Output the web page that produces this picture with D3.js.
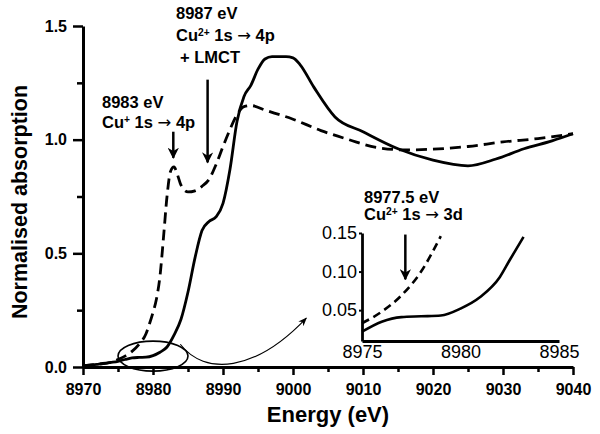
<!DOCTYPE html>
<html>
<head>
<meta charset="utf-8">
<script src="https://cdn.jsdelivr.net/npm/d3@7"></script>
<style>
  body { margin: 0; background: #fff; }
  svg { display: block; font-family: "Liberation Sans", Arial, sans-serif; }
  .axis text { font-weight: bold; font-size: 16px; fill: #000; }
  .inset-axis text { font-weight: normal; font-size: 18px; fill: #000; }
  .axis path, .axis line, .inset-axis path, .inset-axis line { stroke: #000; }
</style>
</head>
<body>
<div id="chart"></div>
<script>
const SVG_WIDTH = 600;
const SVG_HEIGHT = 434;
const X_AXIS_LABEL = "Energy (eV)";
const Y_AXIS_LABEL = "Normalised absorption";

// main spectrum, Cu2+ (solid) and Cu+ (dashed)
const solidEnergy = [8970, 8972, 8974, 8975, 8976, 8977, 8978, 8979, 8980, 8981, 8982, 8983, 8984, 8985, 8986, 8987, 8988, 8989, 8990, 8991, 8992, 8993, 8994, 8995, 8996, 8997, 8999, 9000, 9001, 9003, 9006, 9010, 9015, 9020, 9025, 9029, 9033, 9037, 9040];
const solidAbs    = [0.005, 0.012, 0.02, 0.025, 0.033, 0.04, 0.042, 0.043, 0.05, 0.065, 0.088, 0.14, 0.21, 0.33, 0.48, 0.6, 0.64, 0.66, 0.72, 0.87, 1.08, 1.19, 1.24, 1.31, 1.355, 1.365, 1.365, 1.36, 1.33, 1.23, 1.1, 1.035, 0.96, 0.91, 0.885, 0.915, 0.96, 0.995, 1.026];

const dashedEnergy = [8970, 8972, 8974, 8975, 8976, 8977, 8978, 8979, 8979.5, 8980, 8980.5, 8981, 8981.5, 8982, 8982.5, 8983, 8983.5, 8984, 8985, 8986, 8987, 8988, 8989, 8990, 8991, 8992, 8993, 8994, 8996, 9000, 9004, 9008, 9012, 9016, 9020, 9025, 9030, 9035, 9040];
const dashedAbs    = [0.005, 0.012, 0.02, 0.033, 0.048, 0.069, 0.1, 0.146, 0.19, 0.24, 0.3, 0.4, 0.57, 0.75, 0.86, 0.88, 0.845, 0.8, 0.77, 0.775, 0.795, 0.825, 0.89, 0.97, 1.045, 1.11, 1.145, 1.15, 1.13, 1.09, 1.04, 1.0, 0.965, 0.955, 0.958, 0.97, 0.99, 1.005, 1.026];

// pre-edge inset
const insetSolidEnergy = [8975, 8976, 8977, 8978, 8979, 8980, 8981, 8982, 8982.5, 8983.2];
const insetSolidAbs    = [0.022, 0.035, 0.041, 0.042, 0.043, 0.052, 0.067, 0.093, 0.115, 0.145];
const insetDashedEnergy = [8975, 8976, 8977, 8978, 8979];
const insetDashedAbs    = [0.033, 0.048, 0.069, 0.1, 0.146];

const xMajorTicks = [8970, 8980, 8990, 9000, 9010, 9020, 9030, 9040];
const xMinorTicks = [8975, 8985, 8995, 9005, 9015, 9025, 9035];
const yMajorTicks = [0, 0.5, 1.0, 1.5];
const yMinorTicks = [0.25, 0.75, 1.25];
const insetXTicks = [8975, 8980, 8985];
const insetYTicks = [0.05, 0.10, 0.15];

// annotation arrows: energy, start value, end value
const arrowEnergy = [8982.9, 8987.8];
const arrowFrom   = [1.035, 1.264];
const arrowTo     = [0.92, 0.9];

const svg = d3.select("#chart")
    .append("svg")
    .attr("width", SVG_WIDTH)
    .attr("height", SVG_HEIGHT);

svg.append("defs").append("marker")
    .attr("id", "head")
    .attr("viewBox", "0 0 10 10")
    .attr("refX", 9).attr("refY", 5)
    .attr("markerWidth", 4.5).attr("markerHeight", 4.5)
    .attr("markerUnits", "strokeWidth")
    .attr("orient", "auto")
    .append("path")
    .attr("d", "M0,0 L10,5 L0,10 L3,5 z")
    .attr("fill", "#000");

svg.select("defs").append("marker")
    .attr("id", "thinhead")
    .attr("viewBox", "0 0 10 10")
    .attr("refX", 9).attr("refY", 5)
    .attr("markerWidth", 8).attr("markerHeight", 8)
    .attr("markerUnits", "strokeWidth")
    .attr("orient", "auto")
    .append("path")
    .attr("d", "M0,1 L10,5 L0,9 L3,5 z")
    .attr("fill", "#000");

const xScale = d3.scaleLinear().domain([8970, 9040]).range([83, 573]);
const yScale = d3.scaleLinear().domain([0, 1.5]).range([367, 26]);

// axes
const xAxisG = svg.append("g")
    .attr("class", "axis")
    .attr("transform", `translate(0,${yScale(0)})`);
xAxisG.append("g")
    .call(d3.axisBottom(xScale).tickValues(xMinorTicks).tickSize(5).tickSizeOuter(0).tickFormat(""))
    .call(g => g.select(".domain").remove());
xAxisG.append("g")
    .call(d3.axisBottom(xScale).tickValues(xMajorTicks).tickSize(8).tickSizeOuter(0).tickPadding(9).tickFormat(d3.format("d")));

const yAxisG = svg.append("g")
    .attr("class", "axis")
    .attr("transform", `translate(${xScale(8970)},0)`);
yAxisG.append("g")
    .call(d3.axisLeft(yScale).tickValues(yMinorTicks).tickSize(6).tickSizeOuter(0).tickFormat(""))
    .call(g => g.select(".domain").remove());
yAxisG.append("g")
    .call(d3.axisLeft(yScale).tickValues(yMajorTicks).tickSize(10).tickSizeOuter(0).tickPadding(6).tickFormat(d3.format(".1f")));

svg.selectAll(".axis .domain").attr("stroke-width", 3);
svg.selectAll(".axis line").attr("stroke-width", 2.5);

svg.append("text")
    .attr("x", (xScale.range()[0] + xScale.range()[1]) / 2)
    .attr("y", 422)
    .attr("text-anchor", "middle")
    .style("font-size", "22px")
    .style("font-weight", "bold")
    .text(X_AXIS_LABEL);

svg.append("text")
    .attr("transform", "rotate(-90)")
    .attr("x", -202)
    .attr("y", 27)
    .attr("text-anchor", "middle")
    .style("font-size", "21.5px")
    .style("font-weight", "bold")
    .text(Y_AXIS_LABEL);

// spectra
const line = d3.line()
    .x(d => xScale(d[0]))
    .y(d => yScale(d[1]))
    .curve(d3.curveMonotoneX);

svg.append("path")
    .datum(d3.zip(dashedEnergy, dashedAbs))
    .attr("d", line)
    .attr("fill", "none")
    .attr("stroke", "#000")
    .attr("stroke-width", 2.8)
    .attr("stroke-dasharray", "11,6");

svg.append("path")
    .datum(d3.zip(solidEnergy, solidAbs))
    .attr("d", line)
    .attr("fill", "none")
    .attr("stroke", "#000")
    .attr("stroke-width", 2.8);

// ellipse round the pre-edge and connector to the inset
svg.append("ellipse")
    .attr("cx", xScale(8980))
    .attr("cy", yScale(0.048))
    .attr("rx", xScale(8975) - xScale(8970))
    .attr("ry", yScale(0) - yScale(0.066))
    .attr("fill", "none")
    .attr("stroke", "#000")
    .attr("stroke-width", 1.6);

const connector = d3.path();
connector.moveTo(xScale(8983.9), yScale(0.1));
connector.bezierCurveTo(xScale(8987.4), yScale(-0.04), xScale(8994.6), yScale(-0.022), xScale(9001.9), yScale(0.215));
svg.append("path")
    .attr("d", connector.toString())
    .attr("fill", "none")
    .attr("stroke", "#000")
    .attr("stroke-width", 1.1)
    .attr("marker-end", "url(#thinhead)");

// annotation arrows
svg.selectAll(".ann-arrow")
    .data(arrowEnergy)
    .join("line")
    .attr("class", "ann-arrow")
    .attr("x1", d => xScale(d))
    .attr("x2", d => xScale(d))
    .attr("y1", (d, i) => yScale(arrowFrom[i]))
    .attr("y2", (d, i) => yScale(arrowTo[i]))
    .attr("stroke", "#000")
    .attr("stroke-width", 2.5)
    .attr("marker-end", "url(#head)");

function addLabel(x, y, parts, size) {
    const t = svg.append("text")
        .attr("x", x)
        .attr("y", y)
        .style("font-size", size + "px")
        .style("font-weight", "bold");
    parts.forEach(p => {
        const s = t.append("tspan").text(p.text);
        if (p.sup) s.attr("baseline-shift", "super").style("font-size", (size * 0.62) + "px");
        if (p.arrow) s.style("font-family", "'DejaVu Sans', sans-serif").style("font-weight", "normal");
    });
}

addLabel(176, 19, [{ text: "8987 eV" }], 16.5);
addLabel(176, 41, [{ text: "Cu" }, { text: "2+", sup: true }, { text: " 1s " }, { text: "\u2192", arrow: true }, { text: " 4p" }], 16.5);
addLabel(180, 63, [{ text: "+ LMCT" }], 16.5);
addLabel(102, 107.5, [{ text: "8983 eV" }], 16.5);
addLabel(102, 128, [{ text: "Cu" }, { text: "+", sup: true }, { text: " 1s " }, { text: "\u2192", arrow: true }, { text: " 4p" }], 16.5);
addLabel(364, 203, [{ text: "8977.5 eV" }], 16.5);
addLabel(364, 220, [{ text: "Cu" }, { text: "2+", sup: true }, { text: " 1s " }, { text: "\u2192", arrow: true }, { text: " 3d" }], 16.5);

// inset
const insetX = d3.scaleLinear().domain([8975, 8985]).range([362, 559]);
const insetY = d3.scaleLinear().domain([0.01, 0.15]).range([341, 233]);

svg.append("g")
    .attr("class", "inset-axis")
    .attr("transform", `translate(0,${insetY(0.01)})`)
    .call(d3.axisBottom(insetX).tickValues(insetXTicks).tickSize(0).tickPadding(4).tickFormat(d3.format("d")));

svg.append("g")
    .attr("class", "inset-axis")
    .attr("transform", `translate(${insetX(8975)},0)`)
    .call(d3.axisLeft(insetY).tickValues(insetYTicks).tickSize(3).tickSizeOuter(0).tickPadding(2).tickFormat(d3.format(".2f")));

svg.selectAll(".inset-axis .domain").attr("stroke-width", 2.8);
svg.selectAll(".inset-axis line").attr("stroke-width", 2);

const insetLine = d3.line()
    .x(d => insetX(d[0]))
    .y(d => insetY(d[1]))
    .curve(d3.curveMonotoneX);

svg.append("path")
    .datum(d3.zip(insetDashedEnergy, insetDashedAbs))
    .attr("d", insetLine)
    .attr("fill", "none")
    .attr("stroke", "#000")
    .attr("stroke-width", 2.6)
    .attr("stroke-dasharray", "8,5");

svg.append("path")
    .datum(d3.zip(insetSolidEnergy, insetSolidAbs))
    .attr("d", insetLine)
    .attr("fill", "none")
    .attr("stroke", "#000")
    .attr("stroke-width", 2.6);

svg.append("line")
    .attr("x1", insetX(8977.2))
    .attr("x2", insetX(8977.2))
    .attr("y1", insetY(0.148))
    .attr("y2", insetY(0.09))
    .attr("stroke", "#000")
    .attr("stroke-width", 2.5)
    .attr("marker-end", "url(#head)");
</script>
</body>
</html>
